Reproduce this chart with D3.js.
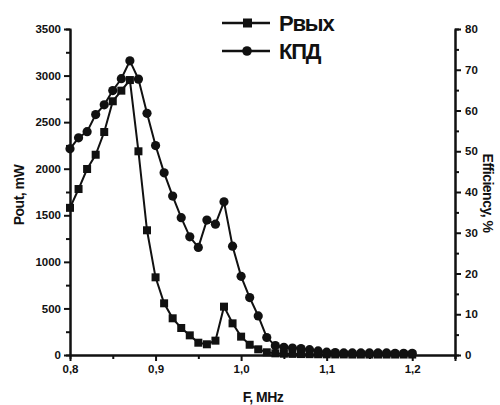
<!DOCTYPE html>
<html>
<head>
<meta charset="utf-8">
<script src="https://cdn.jsdelivr.net/npm/d3@7"></script>
<style>
  body { margin: 0; background: #fff; }
  text { font-family: "Liberation Sans", Arial, sans-serif; font-weight: bold; fill: #111; }
</style>
</head>
<body>
<div id="chart"></div>
<script>
// Frequency, MHz
const freq = [0.80, 0.81, 0.82, 0.83, 0.84, 0.85, 0.86, 0.87, 0.88, 0.89,
  0.90, 0.91, 0.92, 0.93, 0.94, 0.95, 0.96, 0.97, 0.98, 0.99,
  1.00, 1.01, 1.02, 1.03, 1.04, 1.05, 1.06, 1.07, 1.08, 1.09,
  1.10, 1.11, 1.12, 1.13, 1.14, 1.15, 1.16, 1.17, 1.18, 1.19, 1.20];
// Output power, mW
const pout = [1580, 1782, 1997, 2150, 2394, 2724, 2838, 2952, 2187, 1339,
  834, 555, 394, 290, 211, 132, 115, 154, 519, 340,
  197, 110, 61, 29, 18, 14, 12, 10, 9, 8,
  7, 6, 6, 5, 5, 5, 5, 5, 5, 5, 5];
// Efficiency, %
const eff = [50.6, 53.3, 54.8, 59.0, 61.4, 64.9, 67.8, 72.2, 67.7, 59.3,
  51.4, 44.7, 39.0, 33.7, 29.0, 26.4, 33.1, 32.1, 37.6, 26.7,
  19.3, 14.1, 9.6, 4.3, 2.3, 1.9, 1.7, 1.6, 1.3, 1.0,
  0.7, 0.6, 0.5, 0.5, 0.5, 0.5, 0.5, 0.5, 0.4, 0.4, 0.4];

const xTicks = [0.8, 0.9, 1.0, 1.1, 1.2];
const leftTicks = [0, 500, 1000, 1500, 2000, 2500, 3000, 3500];
const rightTicks = [0, 10, 20, 30, 40, 50, 60, 70, 80];
const legendNames = ["Рвых", "КПД"];

const width = 500;
const height = 405;
const margin = {top: 29, right: 45, bottom: 50, left: 70};
const innerWidth = width - margin.left - margin.right;
const innerHeight = height - margin.top - margin.bottom;
const ink = "#111";

const svg = d3.select("#chart")
  .append("svg")
    .attr("width", width)
    .attr("height", height);

const innerChart = svg.append("g")
  .attr("transform", `translate(${margin.left}, ${margin.top})`);

// Scales
const xScale = d3.scaleLinear().domain([0.8, 1.25]).range([0, innerWidth]);
const yLeft = d3.scaleLinear().domain([0, 3500]).range([innerHeight, 0]);
const yRight = d3.scaleLinear().domain([0, 80]).range([innerHeight, 0]);

const comma = d => d3.format(".1f")(d).replace(".", ",");

// Minor ticks (no labels)
innerChart.append("g")
  .attr("class", "axis minor")
  .attr("transform", `translate(0, ${innerHeight})`)
  .call(d3.axisBottom(xScale).tickValues(d3.range(0.85, 1.26, 0.1)).tickSize(4));
innerChart.append("g")
  .attr("class", "axis minor")
  .call(d3.axisLeft(yLeft).tickValues(d3.range(250, 3500, 500)).tickSize(4));
innerChart.append("g")
  .attr("class", "axis minor")
  .attr("transform", `translate(${innerWidth}, 0)`)
  .call(d3.axisRight(yRight).tickValues(d3.range(5, 80, 10)).tickSize(4));
svg.selectAll(".minor text").remove();

// Major axes
innerChart.append("g")
  .attr("class", "axis axis-x")
  .attr("transform", `translate(0, ${innerHeight})`)
  .call(d3.axisBottom(xScale).tickValues(xTicks.concat([1.25])).tickSize(6).tickSizeOuter(0)
    .tickFormat(comma));
svg.selectAll(".axis-x .tick").filter(d => d > 1.21).select("text").remove();
innerChart.append("g")
  .attr("class", "axis axis-yl")
  .call(d3.axisLeft(yLeft).tickValues(leftTicks).tickSize(6).tickSizeOuter(0).tickFormat(d3.format("d")));
innerChart.append("g")
  .attr("class", "axis axis-yr")
  .attr("transform", `translate(${innerWidth}, 0)`)
  .call(d3.axisRight(yRight).tickValues(rightTicks).tickSize(6).tickSizeOuter(0).tickFormat(d3.format("d")));

svg.selectAll(".axis path, .axis line")
  .attr("stroke", ink)
  .attr("stroke-width", 2);
svg.selectAll(".axis text")
  .attr("font-size", 11.5)
  .attr("fill", ink)
  .style("font-family", "'Liberation Sans', Arial, sans-serif")
  .style("font-weight", "bold");
svg.selectAll(".axis-x text").attr("y", 10);
svg.selectAll(".axis-yl text").attr("x", -9);
svg.selectAll(".axis-yr text").attr("x", 10);

// Lines
const linePout = d3.line().x((d, i) => xScale(freq[i])).y(d => yLeft(d));
const lineEff = d3.line().x((d, i) => xScale(freq[i])).y(d => yRight(d));

innerChart.append("path")
  .attr("d", linePout(pout))
  .attr("fill", "none")
  .attr("stroke", ink)
  .attr("stroke-width", 2);
innerChart.append("path")
  .attr("d", lineEff(eff))
  .attr("fill", "none")
  .attr("stroke", ink)
  .attr("stroke-width", 2);

// Markers
const sq = 8;
innerChart.selectAll(".sq")
  .data(pout)
  .join("rect")
    .attr("class", "sq")
    .attr("x", (d, i) => xScale(freq[i]) - sq / 2)
    .attr("y", d => yLeft(d) - sq / 2)
    .attr("width", sq)
    .attr("height", sq)
    .attr("fill", ink);
innerChart.selectAll(".dot")
  .data(eff)
  .join("circle")
    .attr("class", "dot")
    .attr("cx", (d, i) => xScale(freq[i]))
    .attr("cy", d => yRight(d))
    .attr("r", 4.6)
    .attr("fill", ink);

// Axis titles
svg.append("text")
  .text("Pout, mW")
  .attr("transform", "translate(24, 195) rotate(-90)")
  .attr("text-anchor", "middle")
  .attr("font-size", 14)
  .attr("letter-spacing", "-0.5px");
svg.append("text")
  .text("Efficiency, %")
  .attr("transform", "translate(483, 193) rotate(90)")
  .attr("text-anchor", "middle")
  .attr("font-size", 14)
  .attr("letter-spacing", "-0.5px");
svg.append("text")
  .text("F, MHz")
  .attr("x", 263)
  .attr("y", 402)
  .attr("text-anchor", "middle")
  .attr("font-size", 14)
  .attr("letter-spacing", "-0.5px");

// Legend
const legend = svg.append("g");
legendNames.forEach((name, i) => {
  const y = 23 + i * 28;
  legend.append("line")
    .attr("x1", 222).attr("x2", 270)
    .attr("y1", y).attr("y2", y)
    .attr("stroke", ink)
    .attr("stroke-width", 2.5);
  if (i === 0) {
    legend.append("rect")
      .attr("x", 243).attr("y", y - 4.5)
      .attr("width", 9).attr("height", 9)
      .attr("fill", ink);
  } else {
    legend.append("circle")
      .attr("cx", 247).attr("cy", y)
      .attr("r", 4.8)
      .attr("fill", ink);
  }
  legend.append("text")
    .text(name)
    .attr("x", 279)
    .attr("y", y + 8)
    .attr("font-size", 22)
    .attr("letter-spacing", "-1.2px")
    .attr("fill", "#222");
});
</script>
</body>
</html>
